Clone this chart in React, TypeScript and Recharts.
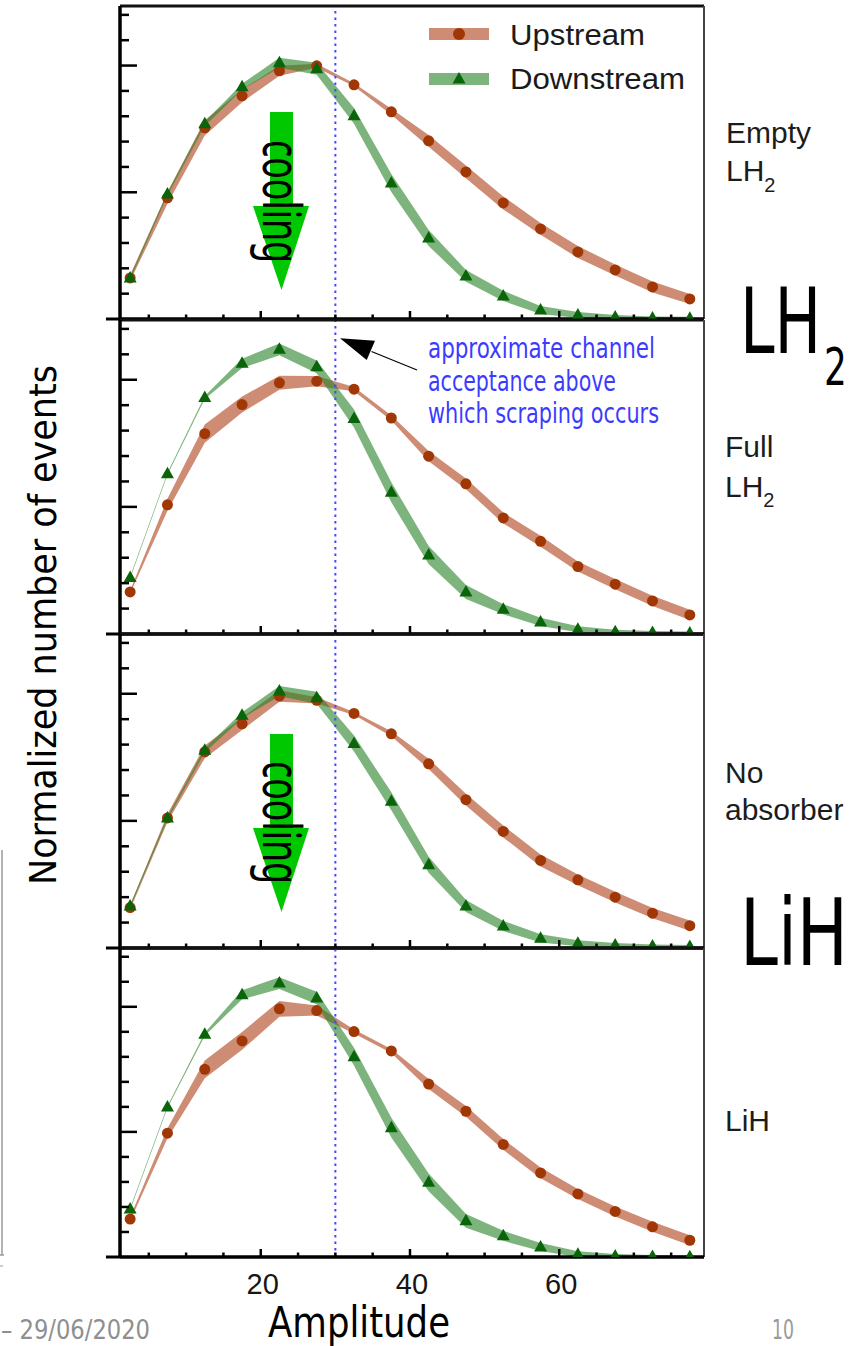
import React from 'react';
import { ComposedChart, Area, Line, XAxis, YAxis, ReferenceLine, Legend } from 'recharts';

// ---------- data ----------
const amplitude = [2.5, 7.5, 12.5, 17.5, 22.5, 27.5, 32.5, 37.5, 42.5, 47.5, 52.5, 57.5, 62.5, 67.5, 72.5, 77.5];

const emptyUp = [0.324, 0.956, 1.509, 1.761, 1.959, 1.998, 1.848, 1.635, 1.406, 1.161, 0.916, 0.711, 0.529, 0.387, 0.253, 0.158];
const emptyUpErr = [0.024, 0.047, 0.06, 0.05, 0.04, 0.016, 0.012, 0.024, 0.047, 0.051, 0.051, 0.047, 0.047, 0.043, 0.043, 0.04];
const emptyDown = [0.324, 0.987, 1.54, 1.833, 2.022, 1.975, 1.603, 1.074, 0.64, 0.34, 0.182, 0.071, 0.032, 0.016, 0.008, 0.005];
const emptyDownErr = [0.012, 0.012, 0.016, 0.024, 0.04, 0.047, 0.063, 0.071, 0.063, 0.047, 0.04, 0.032, 0.024, 0.016, 0.012, 0.012];

const fullUp = [0.331, 1.016, 1.576, 1.805, 1.976, 1.989, 1.926, 1.699, 1.399, 1.181, 0.913, 0.729, 0.531, 0.392, 0.26, 0.15];
const fullUpErr = [0.012, 0.047, 0.071, 0.063, 0.055, 0.04, 0.016, 0.02, 0.04, 0.043, 0.043, 0.043, 0.04, 0.04, 0.04, 0.04];
const fullDown = [0.444, 1.26, 1.86, 2.129, 2.239, 2.102, 1.695, 1.115, 0.621, 0.331, 0.195, 0.095, 0.037, 0.018, 0.012, 0.008];
const fullDownErr = [0.008, 0.008, 0.012, 0.036, 0.047, 0.05, 0.071, 0.079, 0.071, 0.055, 0.04, 0.032, 0.024, 0.016, 0.012, 0.012];

const noAbsUp = [0.318, 1.023, 1.543, 1.764, 1.982, 1.948, 1.845, 1.685, 1.449, 1.167, 0.917, 0.689, 0.536, 0.4, 0.274, 0.176];
const noAbsUpErr = [0.016, 0.032, 0.05, 0.05, 0.045, 0.024, 0.012, 0.02, 0.04, 0.047, 0.047, 0.047, 0.043, 0.043, 0.04, 0.04];
const noAbsDown = [0.331, 1.023, 1.556, 1.83, 2.021, 1.969, 1.609, 1.154, 0.655, 0.331, 0.173, 0.076, 0.037, 0.024, 0.016, 0.012];
const noAbsDownErr = [0.012, 0.012, 0.016, 0.024, 0.04, 0.047, 0.063, 0.071, 0.063, 0.047, 0.04, 0.032, 0.024, 0.016, 0.012, 0.012];

const lihUp = [0.303, 0.99, 1.5, 1.727, 1.984, 1.97, 1.802, 1.647, 1.382, 1.165, 0.9, 0.672, 0.504, 0.364, 0.241, 0.134];
const lihUpErr = [0.016, 0.04, 0.071, 0.071, 0.063, 0.04, 0.016, 0.016, 0.04, 0.043, 0.043, 0.043, 0.04, 0.04, 0.04, 0.04];
const lihDown = [0.383, 1.199, 1.781, 2.096, 2.19, 2.07, 1.601, 1.034, 0.597, 0.289, 0.169, 0.08, 0.021, 0.008, 0.004, 0.002];
const lihDownErr = [0.008, 0.008, 0.012, 0.036, 0.047, 0.05, 0.071, 0.079, 0.071, 0.055, 0.04, 0.032, 0.024, 0.016, 0.012, 0.012];

const seriesNames = ['Upstream', 'Downstream'];
const xTicks = [5, 10, 15, 20, 25, 30, 35, 40, 45, 50, 55, 60, 65, 70, 75];
const xLabelTicks = [20, 40, 60];
const yTicks = [0.2, 0.4, 0.6, 0.8, 1.0, 1.2, 1.4, 1.6, 1.8, 2.0, 2.2, 2.4];
const yMajorTicks = [1, 2];
const xDomain: [number, number] = [1.14, 79.4];
const yDomain: [number, number] = [0, 2.47];
const scrapingCut = 30;

// ---------- styles ----------
const UP_FILL = 'rgb(172,63,22)';
const DOWN_FILL = 'rgb(38,130,38)';
const UP_MARK = '#a03705';
const DOWN_MARK = '#0a640a';
const COND = "'DejaVu Sans Condensed', 'Liberation Sans Narrow', 'DejaVu Sans', sans-serif";
const ARIAL = "'Liberation Sans', Arial, sans-serif";

const buildRows = (up: number[], upErr: number[], down: number[], downErr: number[]) =>
  amplitude.map((x, i) => ({
    x,
    up: up[i],
    down: down[i],
    upBand: [Math.max(0, up[i] - upErr[i]), up[i] + upErr[i]],
    downBand: [Math.max(0, down[i] - downErr[i]), down[i] + downErr[i]],
  }));

const panels = [
  { rows: buildRows(emptyUp, emptyUpErr, emptyDown, emptyDownErr), top: 6, h: 313 },
  { rows: buildRows(fullUp, fullUpErr, fullDown, fullDownErr), top: 320, h: 314 },
  { rows: buildRows(noAbsUp, noAbsUpErr, noAbsDown, noAbsDownErr), top: 634, h: 314 },
  { rows: buildRows(lihUp, lihUpErr, lihDown, lihDownErr), top: 948, h: 309 },
];

const XTick = (props: any) => {
  const { x, y, payload, showLabel } = props;
  const v = payload.value;
  const major = xLabelTicks.includes(v);
  return (
    <g>
      <line x1={x} x2={x} y1={y} y2={y - (major ? 8 : 4.5)} stroke="#000" strokeWidth={2.5} />
      {showLabel && major && (
        <text x={x + 2} y={y + 37} textAnchor="middle" fontSize={29} fontFamily={ARIAL} fill="#161616">
          {v}
        </text>
      )}
    </g>
  );
};

const YTick = (props: any) => {
  const { x, y, payload } = props;
  const major = yMajorTicks.some((m) => Math.abs(m - payload.value) < 1e-6);
  return <line x1={x} x2={x + (major ? 17 : 9)} y1={y} y2={y} stroke="#000" strokeWidth={2.5} />;
};

const circleDot = (props: any) => {
  const { cx, cy, index } = props;
  if (cx == null || cy == null) return <g key={`c-${index}`} />;
  return <circle key={`c-${index}`} cx={cx} cy={cy} r={5.5} fill={UP_MARK} />;
};

const triDot = (props: any) => {
  const { cx, cy, index } = props;
  if (cx == null || cy == null) return <g key={`t-${index}`} />;
  return (
    <path
      key={`t-${index}`}
      d={`M${cx},${cy - 7} L${cx + 6.5},${cy + 4.5} L${cx - 6.5},${cy + 4.5} Z`}
      fill={DOWN_MARK}
    />
  );
};

const LegendBox = () => (
  <svg width={380} height={90}>
    <line x1={9} x2={69} y1={24} y2={24} stroke={UP_FILL} strokeOpacity={0.6} strokeWidth={12} />
    <circle cx={39} cy={24} r={6} fill={UP_MARK} />
    <line x1={9} x2={69} y1={69} y2={69} stroke={DOWN_FILL} strokeOpacity={0.6} strokeWidth={12} />
    <path d="M39,62 L45.5,73.5 L32.5,73.5 Z" fill={DOWN_MARK} />
    <text x={90} y={35} fontSize={30} fontFamily={ARIAL} fill="#1a1a1a" textLength={135} lengthAdjust="spacingAndGlyphs">
      {seriesNames[0]}
    </text>
    <text x={90} y={79} fontSize={30} fontFamily={ARIAL} fill="#1a1a1a" textLength={175} lengthAdjust="spacingAndGlyphs">
      {seriesNames[1]}
    </text>
  </svg>
);

const Panel = ({ rows, top, h, index }: any) => {
  const last = index === 3;
  const mb = last ? 60 : 10;
  return (
    <div style={{ position: 'absolute', left: 100, top: top - 10 }}>
      <ComposedChart
        width={610}
        height={h + 10 + mb}
        data={rows}
        margin={{ top: 10, right: 6, bottom: mb - 1, left: 19 }}
      >
        <XAxis
          dataKey="x"
          type="number"
          domain={xDomain}
          allowDataOverflow
          ticks={xTicks}
          height={1}
          tickSize={0}
          tickMargin={0}
          interval={0}
          axisLine={{ stroke: '#000', strokeWidth: 3 }}
          tickLine={false}
          tick={(p: any) => <XTick {...p} showLabel={last} />}
        />
        <YAxis
          type="number"
          domain={yDomain}
          allowDataOverflow
          ticks={yTicks}
          width={1}
          tickSize={0}
          tickMargin={0}
          interval={0}
          axisLine={{ stroke: '#000', strokeWidth: 3 }}
          tickLine={false}
          tick={(p: any) => <YTick {...p} />}
        />
        <Area
          dataKey="upBand"
          type="linear"
          stroke="none"
          fill={UP_FILL}
          fillOpacity={0.6}
          isAnimationActive={false}
          legendType="none"
          activeDot={false}
        />
        <Area
          dataKey="downBand"
          type="linear"
          stroke="none"
          fill={DOWN_FILL}
          fillOpacity={0.6}
          isAnimationActive={false}
          legendType="none"
          activeDot={false}
        />
        <ReferenceLine x={scrapingCut} stroke="#4646ff" strokeWidth={2} strokeDasharray="2.5 4" />
        <ReferenceLine y={yDomain[1]} stroke="#111" strokeWidth={3} />
        <ReferenceLine x={xDomain[1]} stroke="#444" strokeWidth={2} />
        <ReferenceLine
          segment={[{ x: -0.74, y: 0 }, { x: xDomain[1], y: 0 }]}
          ifOverflow="visible"
          stroke="#000"
          strokeWidth={3}
        />
        <ReferenceLine
          segment={[{ x: xDomain[0], y: 0 }, { x: xDomain[0], y: yDomain[1] }]}
          ifOverflow="visible"
          stroke="#000"
          strokeWidth={3}
        />
        <Line
          dataKey="up"
          type="linear"
          stroke="none"
          dot={circleDot}
          activeDot={false}
          isAnimationActive={false}
          legendType="none"
        />
        <Line
          dataKey="down"
          type="linear"
          stroke="none"
          dot={triDot}
          activeDot={false}
          isAnimationActive={false}
          legendType="none"
        />
        {index === 0 && (
          <Legend
            verticalAlign="middle"
            align="center"
            layout="horizontal"
            wrapperStyle={{ position: 'absolute', left: 320, top: 14, width: 380, height: 90 }}
            content={() => <LegendBox />}
          />
        )}
      </ComposedChart>
    </div>
  );
};

const CoolingArrow = ({ y0, textTop }: { y0: number; textTop: number }) => (
  <g>
    <rect x={270} y={y0} width={23} height={94} fill="#00c800" />
    <polygon points={`253,${y0 + 94} 309,${y0 + 94} 281.5,${y0 + 178}`} fill="#00c800" />
    <text
      transform={`translate(263, ${textTop}) rotate(90) scale(1, 1.56)`}
      x={0}
      y={0}
      fontSize={34}
      fontFamily="'Noto Sans', 'DejaVu Sans', sans-serif"
      fill="#000"
      textLength={123}
      lengthAdjust="spacingAndGlyphs"
    >
      cooling
    </text>
  </g>
);

export default function App() {
  return (
    <div
      style={{
        position: 'absolute',
        left: 0,
        top: 0,
        width: 864,
        height: 1346,
        background: '#fff',
        overflow: 'hidden',
      }}
    >
      {panels.map((p, i) => (
        <Panel key={i} rows={p.rows} top={p.top} h={p.h} index={i} />
      ))}
      <svg
        width={864}
        height={1346}
        style={{ position: 'absolute', left: 0, top: 0, pointerEvents: 'none' }}
      >
        {/* slide frame remnants */}
        <line x1={2} x2={2} y1={850} y2={1255} stroke="#9a9a9a" strokeWidth={1.5} />
        <line x1={0} x2={4} y1={1255} y2={1255} stroke="#9a9a9a" strokeWidth={1.5} />
        <line x1={0} x2={3} y1={1266} y2={1266} stroke="#9a9a9a" strokeWidth={1} />

        {/* cooling arrows */}
        <CoolingArrow y0={112} textTop={140} />
        <CoolingArrow y0={734} textTop={761} />

        {/* scraping annotation */}
        <line x1={371.5} y1={351.5} x2={417} y2={370} stroke="#000" strokeWidth={1.2} />
        <polygon points="340,338.3 375,340.7 366.7,360" fill="#000" />
        <g fontFamily={COND} fontSize={28} fill="#3b3bff">
          <text x={428} y={358} textLength={227} lengthAdjust="spacingAndGlyphs">approximate channel</text>
          <text x={428} y={391} textLength={188} lengthAdjust="spacingAndGlyphs">acceptance above</text>
          <text x={428} y={423} textLength={231} lengthAdjust="spacingAndGlyphs">which scraping occurs</text>
        </g>

        {/* panel labels */}
        <g fontFamily={ARIAL} fontSize={30} fill="#1c1c1c">
          <text x={726} y={143}>Empty</text>
          <text x={726} y={181}>
            LH<tspan fontSize={20} dy={11}>2</tspan>
          </text>
          <text x={725} y={457}>Full</text>
          <text x={725} y={497}>
            LH<tspan fontSize={20} dy={10}>2</tspan>
          </text>
          <text x={725} y={783}>No</text>
          <text x={725} y={820}>absorber</text>
          <text x={725} y={1131}>LiH</text>
        </g>

        {/* big labels (narrowed horizontally to mimic the condensed slide font) */}
        <g fontFamily="'DejaVu Sans', sans-serif" fill="#000">
          <text transform="translate(740, 353) scale(0.69, 1)" fontSize={90}>
            LH
            <tspan dx={4} dy={32} fontSize={52}>2</tspan>
          </text>
          <text transform="translate(740, 965) scale(0.74, 1)" fontSize={92}>LiH</text>
        </g>

        {/* axis titles */}
        <text
          transform="translate(56, 625) rotate(-90)"
          textAnchor="middle"
          fontFamily={COND}
          fontSize={37}
          fill="#000"
          textLength={520}
          lengthAdjust="spacingAndGlyphs"
        >
          Normalized number of events
        </text>
        <text x={268} y={1337} fontFamily={COND} fontSize={42} fill="#000" textLength={182} lengthAdjust="spacingAndGlyphs">
          Amplitude
        </text>

        {/* footer */}
        <text x={1} y={1339} fontFamily={COND} fontSize={27} fill="#8f8f8f" textLength={149} lengthAdjust="spacingAndGlyphs">
          – 29/06/2020
        </text>
        <text x={772} y={1339} fontFamily={COND} fontSize={27} fill="#9a9a9a" textLength={22} lengthAdjust="spacingAndGlyphs">
          10
        </text>
      </svg>
    </div>
  );
}
